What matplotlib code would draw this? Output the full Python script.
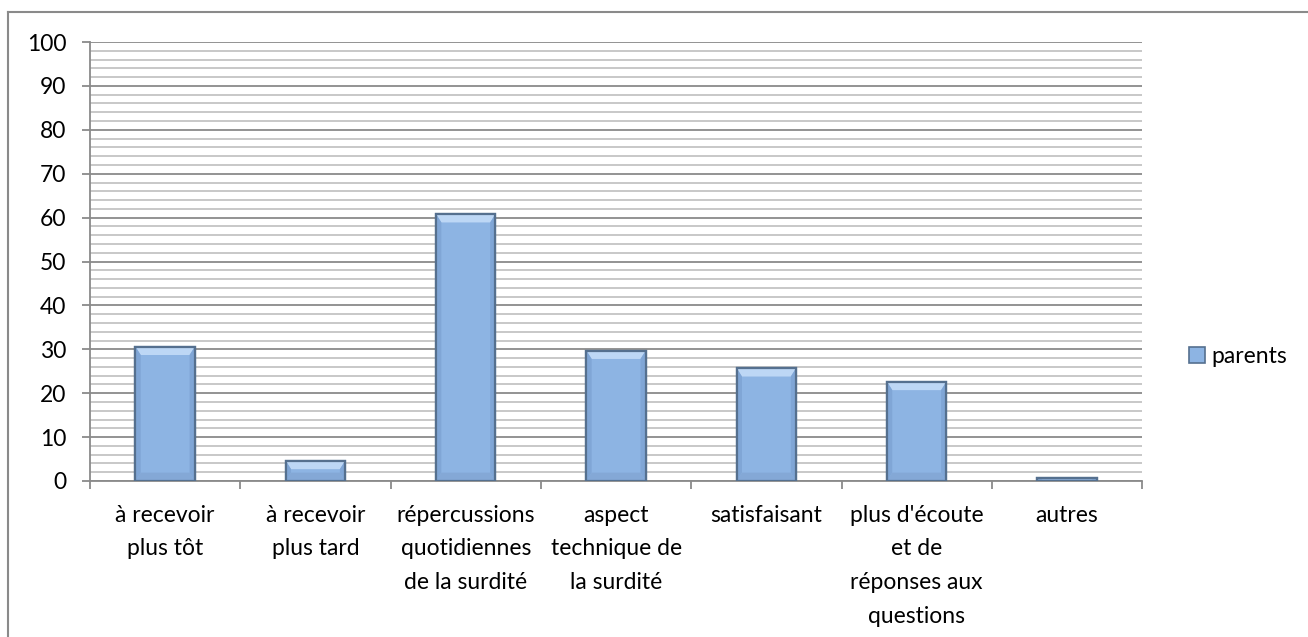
import numpy as np
import matplotlib
matplotlib.use('Agg')
import matplotlib.pyplot as plt
from matplotlib.patches import Polygon, Patch
from matplotlib.lines import Line2D

plt.rcParams['font.family'] = ['Liberation Sans Narrow', 'Lato', 'DejaVu Sans']

# data
categories = ['à recevoir\nplus tôt', 'à recevoir\nplus tard',
              'répercussions\nquotidiennes\nde la surdité',
              'aspect\ntechnique de\nla surdité', 'satisfaisant',
              "plus d'écoute\net de\nréponses aux\nquestions", 'autres']
parents = [30.6, 4.6, 60.8, 29.7, 25.7, 22.6, 0.7]
series_name = 'parents'

fill = '#8db4e3'
edge = '#55708f'
light = '#bdd7f5'
dark = '#80a6d6'

fig = plt.figure(figsize=(13.08, 6.37), dpi=100)
ax = fig.add_axes([0.0688, 0.2449, 0.8044, 0.6891])

x = np.arange(len(categories))
width = 0.395
bars = ax.bar(x, parents, width=width, color=fill, edgecolor=edge,
              linewidth=1.6, zorder=3)

# simple bevel: lighter top band and darker sides
for xi, h in zip(x, parents):
    l, r = xi - width / 2, xi + width / 2
    bx = 0.035
    by = min(1.9, h / 2)
    top = Polygon([(l, h), (r, h), (r - bx, h - by), (l + bx, h - by)],
                  closed=True, facecolor=light, edgecolor='none', zorder=4)
    left = Polygon([(l, h), (l + bx, h - by), (l + bx, by), (l, 0)],
                   closed=True, facecolor=dark, edgecolor='none', zorder=4)
    right = Polygon([(r, h), (r - bx, h - by), (r - bx, by), (r, 0)],
                    closed=True, facecolor=dark, edgecolor='none', zorder=4)
    bottom = Polygon([(l, 0), (r, 0), (r - bx, by), (l + bx, by)],
                     closed=True, facecolor='#84a8d6', edgecolor='none', zorder=4)
    for p in (top, left, right, bottom):
        ax.add_patch(p)
    ax.add_patch(Polygon([(l, 0), (l, h), (r, h), (r, 0)], closed=True,
                         fill=False, edgecolor=edge, linewidth=1.6, zorder=5))

ax.set_xlim(-0.5, len(categories) - 0.5)
ax.set_ylim(0, 100)

ax.set_yticks(np.arange(0, 101, 10))
ax.set_yticks(np.arange(0, 101, 2), minor=True)
ax.yaxis.grid(True, which='major', color='#8a8a8a', linewidth=1.3, zorder=0)
ax.yaxis.grid(True, which='minor', color='#c4c4c4', linewidth=1.3, zorder=0)
ax.set_axisbelow(True)

ax.set_xticks(x)
ax.set_xticklabels(categories, fontsize=16.5, linespacing=1.75)
ax.set_xticks(np.arange(-0.5, len(categories), 1), minor=True)
ax.tick_params(axis='x', which='major', length=0, pad=17)
ax.tick_params(axis='x', which='minor', length=6, width=1.3, color='#8a8a8a')
ax.tick_params(axis='y', which='major', length=6, width=1.3, color='#8a8a8a',
               labelsize=16.5, pad=11)
ax.tick_params(axis='y', which='minor', length=0)

for s in ('top', 'right'):
    ax.spines[s].set_visible(False)
for s in ('left', 'bottom'):
    ax.spines[s].set_color('#8a8a8a')
    ax.spines[s].set_linewidth(1.3)

handle = Patch(facecolor=fill, edgecolor=edge, linewidth=1.2)
fig.legend([handle], [series_name], loc='center left',
           bbox_to_anchor=(0.893, 0.441), frameon=False, fontsize=16.5,
           handlelength=0.7, handleheight=0.7, handletextpad=0.3)

# chart area border (top and left edges visible)
fig.add_artist(Line2D([0.0061, 1.0], [0.981, 0.981], color='#8a8a8a',
                      linewidth=1.5, transform=fig.transFigure))
fig.add_artist(Line2D([0.0061, 0.0061], [0.0, 0.981], color='#8a8a8a',
                      linewidth=1.5, transform=fig.transFigure))

fig.savefig('out.png', dpi=100)
